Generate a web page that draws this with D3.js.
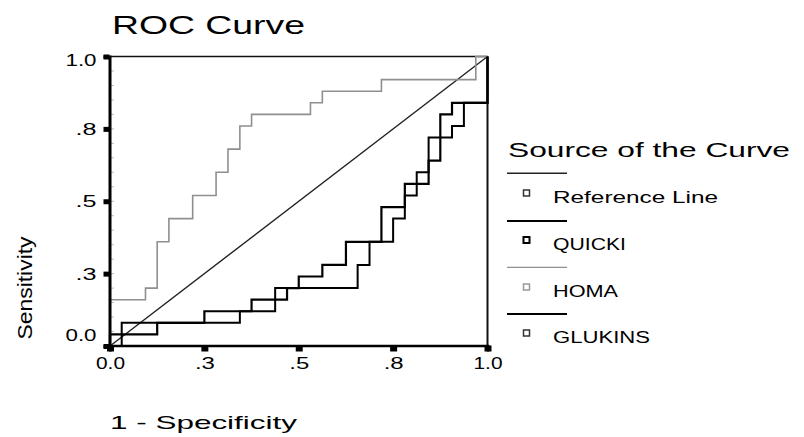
<!DOCTYPE html>
<html>
<head>
<meta charset="utf-8">
<script src="https://cdn.jsdelivr.net/npm/d3@7"></script>
<style>
  html, body { margin: 0; padding: 0; background: #fff; }
  svg { display: block; }
  text { font-family: "Liberation Sans", Arial, sans-serif; fill: #000; }
</style>
</head>
<body>
<svg id="chart" width="804" height="437"></svg>
<script>
// ---- data ----
const tickValues = [0, 0.25, 0.5, 0.75, 1];
const tickLabels = ["0.0", ".3", ".5", ".8", "1.0"];

const seriesNames = ["Reference Line", "QUICKI", "HOMA", "GLUKINS"];

const referenceFPR = [0, 1];
const referenceTPR = [0, 1];

const quickiFPR = [0, 0, 0.125, 0.125, 0.25, 0.25, 0.375, 0.375, 0.469, 0.469, 0.5, 0.5, 0.5625, 0.5625, 0.625, 0.625, 0.719, 0.719, 0.781, 0.781, 0.844, 0.844, 0.875, 0.875, 0.906, 0.906, 1, 1];
const quickiTPR = [0, 0.04, 0.04, 0.08, 0.08, 0.12, 0.12, 0.16, 0.16, 0.2, 0.2, 0.24, 0.24, 0.28, 0.28, 0.36, 0.36, 0.48, 0.48, 0.56, 0.56, 0.64, 0.64, 0.8, 0.8, 0.84, 0.84, 1];

const homaFPR = [0, 0, 0.094, 0.094, 0.125, 0.125, 0.156, 0.156, 0.219, 0.219, 0.281, 0.281, 0.3125, 0.3125, 0.344, 0.344, 0.375, 0.375, 0.531, 0.531, 0.5625, 0.5625, 0.719, 0.719, 0.969, 0.969, 1];
const homaTPR = [0, 0.16, 0.16, 0.2, 0.2, 0.36, 0.36, 0.44, 0.44, 0.52, 0.52, 0.6, 0.6, 0.68, 0.68, 0.76, 0.76, 0.8, 0.8, 0.84, 0.84, 0.88, 0.88, 0.92, 0.92, 1, 1];

const glukinsFPR = [0, 0.031, 0.031, 0.344, 0.344, 0.4375, 0.4375, 0.656, 0.656, 0.6875, 0.6875, 0.75, 0.75, 0.781, 0.781, 0.8125, 0.8125, 0.844, 0.844, 0.906, 0.906, 0.9375, 0.9375, 1, 1];
const glukinsTPR = [0, 0, 0.08, 0.08, 0.12, 0.12, 0.2, 0.2, 0.28, 0.28, 0.36, 0.36, 0.44, 0.44, 0.52, 0.52, 0.6, 0.6, 0.72, 0.72, 0.76, 0.76, 0.84, 0.84, 1];

// ---- layout ----
const svg = d3.select("#chart");
const x = d3.scaleLinear().domain([0, 1]).range([110, 487.5]);
const y = d3.scaleLinear().domain([0, 1]).range([346, 56.5]);

const zip = (a, b) => a.map((v, i) => [v, b[i]]);
const line = d3.line().x(d => x(d[0])).y(d => y(d[1]));

// minor ticks (faint, inside)
const minor = d3.range(1, 20).map(i => i / 20);
svg.append("g").selectAll("line").data(minor).join("line")
  .attr("x1", x(0) + 1).attr("x2", x(0) + 4)
  .attr("y1", d => y(d)).attr("y2", d => y(d))
  .attr("stroke", "#bbb").attr("stroke-width", 1);

// frame top & right
svg.append("line").attr("x1", x(0)).attr("x2", x(1)).attr("y1", y(1)).attr("y2", y(1))
  .attr("stroke", "#111").attr("stroke-width", 1.6);
svg.append("line").attr("x1", x(1)).attr("x2", x(1)).attr("y1", y(1)).attr("y2", y(0))
  .attr("stroke", "#111").attr("stroke-width", 2);

// series
svg.append("path").datum(zip(referenceFPR, referenceTPR)).attr("d", line)
  .attr("fill", "none").attr("stroke", "#222").attr("stroke-width", 1.4);
svg.append("path").datum(zip(homaFPR, homaTPR)).attr("d", line)
  .attr("fill", "none").attr("stroke", "#8f8f8f").attr("stroke-width", 1.6);
svg.append("path").datum(zip(glukinsFPR, glukinsTPR)).attr("d", line)
  .attr("fill", "none").attr("stroke", "#000").attr("stroke-width", 2);
svg.append("path").datum(zip(quickiFPR, quickiTPR)).attr("d", line)
  .attr("fill", "none").attr("stroke", "#000").attr("stroke-width", 2.2);

// axes
const yAxis = d3.axisLeft(y).tickValues(tickValues).tickFormat((d, i) => tickLabels[i]).tickSize(6).tickPadding(6);
const gy = svg.append("g").attr("transform", `translate(${x(0) - 0.5},0)`).call(yAxis);
gy.select(".domain").attr("stroke", "#000").attr("stroke-width", 3);
gy.selectAll(".tick line").attr("stroke", "#000").attr("stroke-width", 5);
gy.selectAll(".tick text").attr("font-size", 17).attr("font-family", "Liberation Sans, Arial, sans-serif")
  .attr("x", -13)
  .attr("textLength", (d, i) => tickLabels[i].length === 3 ? 31 : 21)
  .attr("lengthAdjust", "spacingAndGlyphs")
  .attr("dy", (d) => d === 0 ? "-0.3em" : (d === 1 ? "0.55em" : "0.32em"));

const xAxis = d3.axisBottom(x).tickValues(tickValues).tickFormat((d, i) => tickLabels[i]).tickSize(6).tickPadding(5);
const gx = svg.append("g").attr("transform", `translate(0,${y(0) - 0.5})`).call(xAxis);
gx.select(".domain").attr("stroke", "#000").attr("stroke-width", 2.6);
gx.selectAll(".tick line").attr("stroke", "#000").attr("stroke-width", 7);
gx.selectAll(".tick text").attr("font-size", 17).attr("font-family", "Liberation Sans, Arial, sans-serif")
  .attr("textLength", (d, i) => tickLabels[i].length === 3 ? 29 : 20)
  .attr("lengthAdjust", "spacingAndGlyphs");

// titles
svg.append("text").attr("x", 112).attr("y", 34).attr("font-size", 25)
  .attr("textLength", 193).attr("lengthAdjust", "spacingAndGlyphs").text("ROC Curve");
svg.append("text").attr("x", 110).attr("y", 429).attr("font-size", 19)
  .attr("textLength", 187).attr("lengthAdjust", "spacingAndGlyphs").text("1 - Specificity");
svg.append("text").attr("transform", "translate(32,288) rotate(-90)").attr("text-anchor", "middle")
  .attr("font-size", 21).attr("textLength", 103).attr("lengthAdjust", "spacingAndGlyphs").text("Sensitivity");

// legend
svg.append("text").attr("x", 508).attr("y", 157).attr("font-size", 21)
  .attr("textLength", 282).attr("lengthAdjust", "spacingAndGlyphs").text("Source of the Curve");

const legendLineY = [173.3, 221, 267.3, 314];
const legendMarkY = [193, 240, 287, 333];
const legendTextY = [202.5, 250, 296.5, 343];
const legendTextW = [165, 73, 65, 97];
const legendStroke = ["#222", "#000", "#8f8f8f", "#000"];
const legendWidth = [1.4, 2.2, 1.3, 1.8];
const lg = svg.append("g");
seriesNames.forEach((name, i) => {
  lg.append("line").attr("x1", 507).attr("x2", 567).attr("y1", legendLineY[i]).attr("y2", legendLineY[i])
    .attr("stroke", legendStroke[i]).attr("stroke-width", legendWidth[i]);
  lg.append("rect").attr("x", 523.5).attr("y", legendMarkY[i] - 3).attr("width", 6).attr("height", 6)
    .attr("fill", "#fff").attr("stroke", i === 2 ? "#999" : (i === 1 ? "#000" : "#333"))
    .attr("stroke-width", i === 1 ? 2 : 1.5);
  lg.append("text").attr("x", 553).attr("y", legendTextY[i]).attr("font-size", 16)
    .attr("textLength", legendTextW[i]).attr("lengthAdjust", "spacingAndGlyphs").text(name);
});
</script>
</body>
</html>
